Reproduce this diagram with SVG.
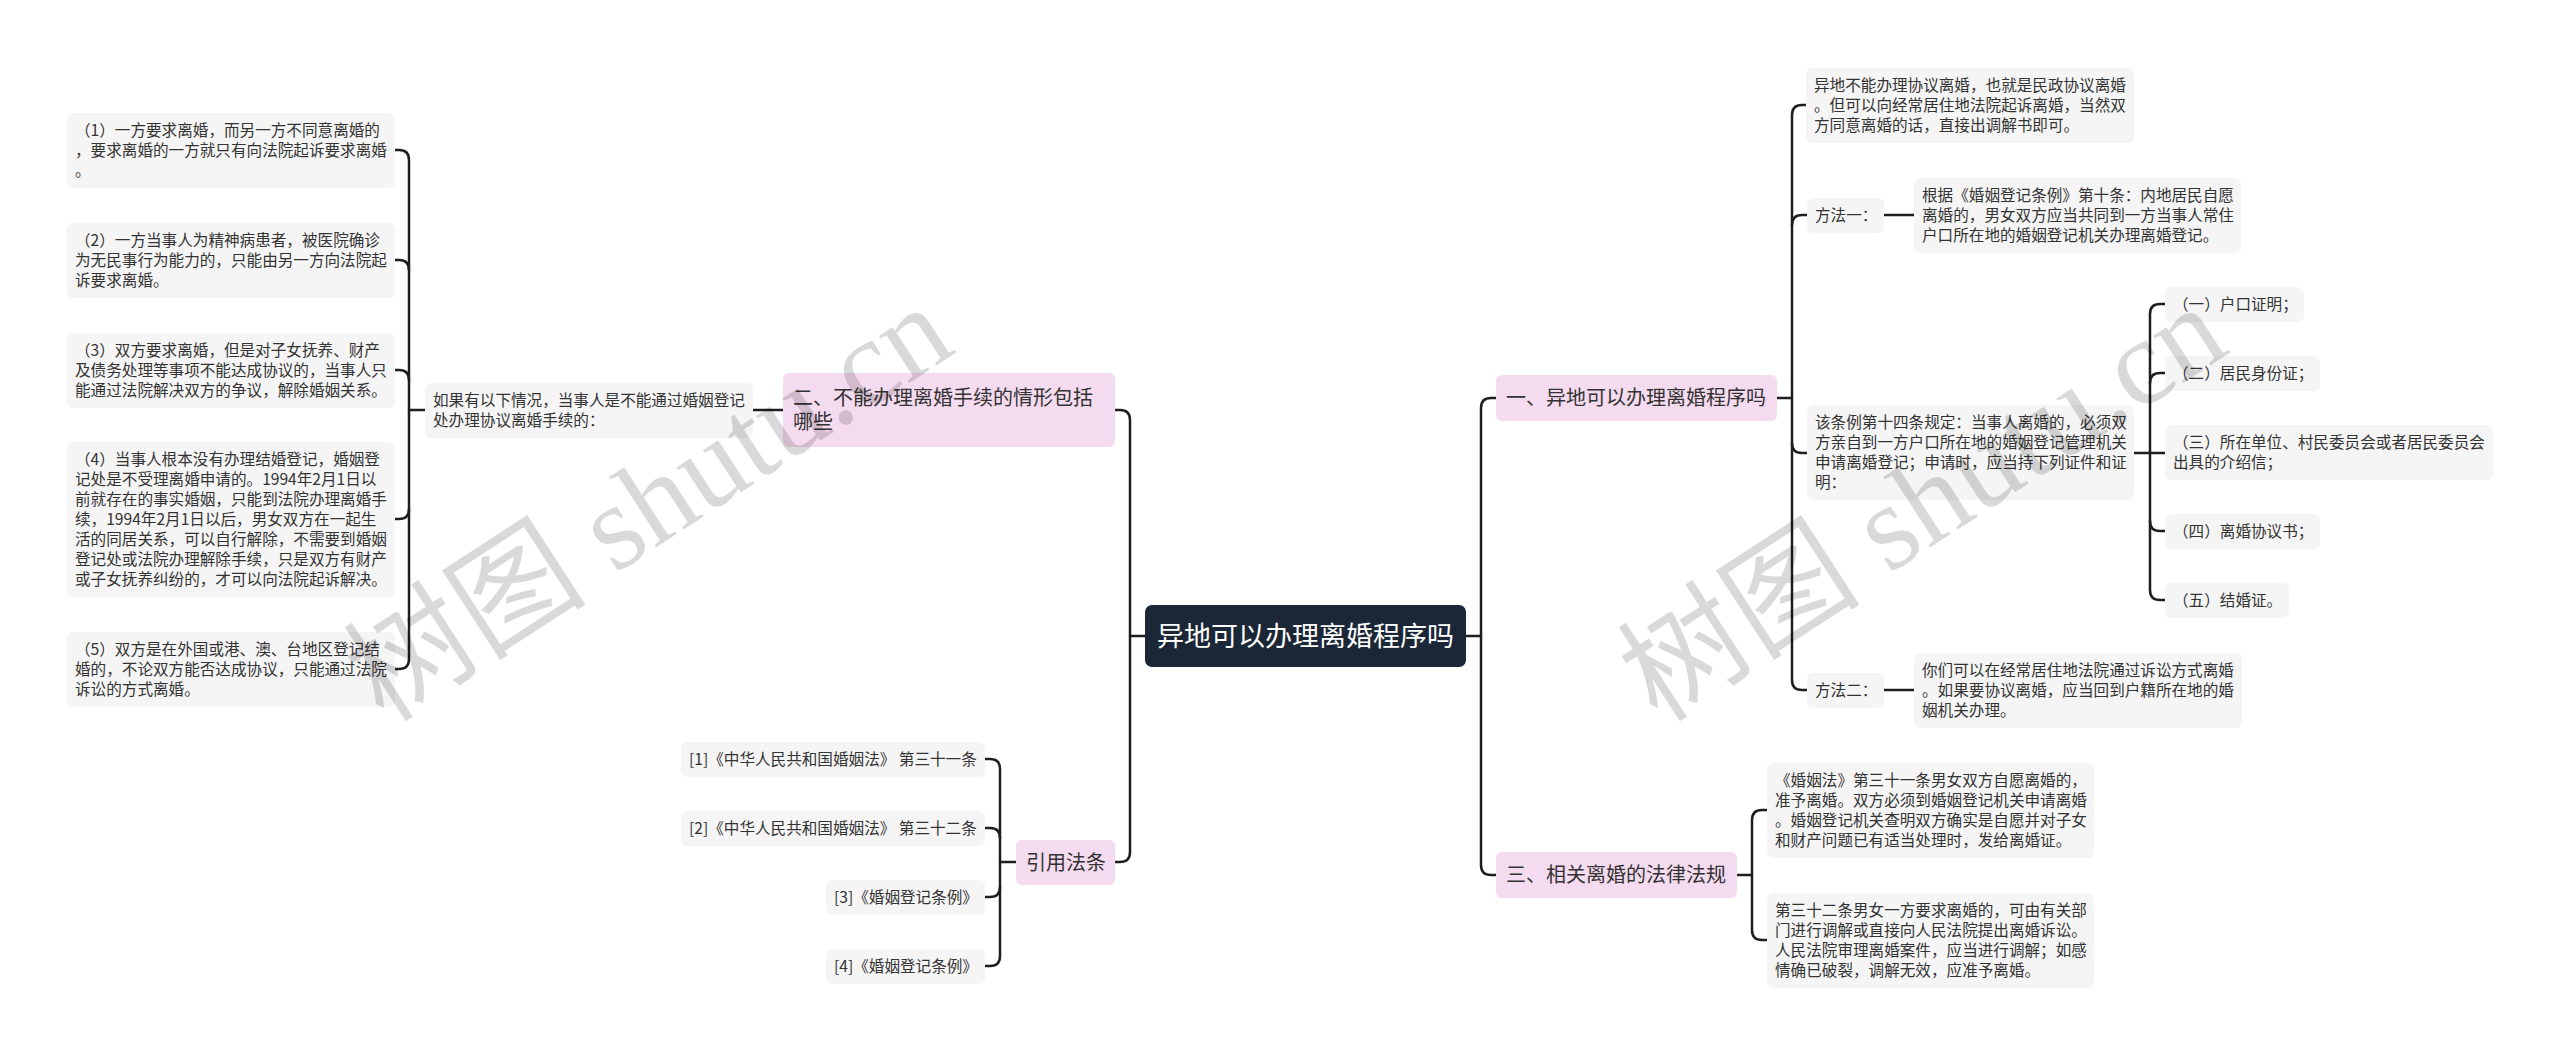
<svg xmlns="http://www.w3.org/2000/svg" width="2560" height="1055" viewBox="0 0 2560 1055">
<defs>
<style>
.bg{fill:#ffffff}
.conn path{fill:none;stroke:#1e1e1e;stroke-width:2.5;stroke-linecap:round;stroke-linejoin:round}
.leaf rect{fill:#f5f5f5}
.leaf text{font-family:"Noto Sans CJK SC","Noto Sans",sans-serif;font-size:15.6px;fill:#333333}
.branch rect{fill:#f5dbef}
.branch text{font-family:"Noto Sans CJK SC","Noto Sans",sans-serif;font-size:20px;fill:#333333}
.root rect{fill:#1b2636}
.root text{font-family:"Noto Sans CJK SC","Noto Sans",sans-serif;font-size:27px;fill:#ffffff;text-anchor:middle}
.wm{font-family:"Liberation Serif","Noto Sans CJK SC",serif;font-size:122px;fill:#000000;fill-opacity:0.15}
</style>
</defs>
<rect class="bg" x="0" y="0" width="2560" height="1055"/>

<g id="connectors" class="conn">
  <path d="M1466,636 H1481"/>
  <path d="M1496,398 H1491 Q1481,398 1481,408 V865 Q1481,875 1491,875 H1496"/>
  <path d="M1145,636 H1130"/>
  <path d="M1115,410 H1120 Q1130,410 1130,420 V852 Q1130,862 1120,862 H1115"/>
  <path d="M1777,398 H1792"/>
  <path d="M1806,105 H1802 Q1792,105 1792,115 V680 Q1792,690 1802,690 H1807"/>
  <path d="M1792,225 Q1792,215 1802,215 H1807"/>
  <path d="M1792,443 Q1792,453 1802,453 H1807"/>
  <path d="M1884,215 H1914"/>
  <path d="M1884,690 H1914"/>
  <path d="M2134,453 H2150"/>
  <path d="M2165,304 H2160 Q2150,304 2150,314 V590 Q2150,600 2160,600 H2165"/>
  <path d="M2150,383 Q2150,373 2160,373 H2165"/>
  <path d="M2150,453 H2165"/>
  <path d="M2150,521 Q2150,531 2160,531 H2165"/>
  <path d="M1737,875 H1752"/>
  <path d="M1767,810 H1762 Q1752,810 1752,820 V930 Q1752,940 1762,940 H1767"/>
  <path d="M783,410 H753"/>
  <path d="M425,410 H409"/>
  <path d="M395,150 H399 Q409,150 409,160 V659 Q409,669 399,669 H395"/>
  <path d="M409,270 Q409,260 399,260 H395"/>
  <path d="M409,380 Q409,370 399,370 H395"/>
  <path d="M409,509 Q409,519 399,519 H395"/>
  <path d="M1016,862 H1000"/>
  <path d="M985,759 H990 Q1000,759 1000,769 V956 Q1000,966 990,966 H985"/>
  <path d="M1000,838 Q1000,828 990,828 H985"/>
  <path d="M1000,887 Q1000,897 990,897 H985"/>
</g>

<g id="root" class="root">
  <rect x="1145" y="605" width="321" height="62" rx="7"/>
  <text x="1305.5" y="646">异地可以办理离婚程序吗</text>
</g>

<g id="branch1" class="branch">
  <rect x="1496" y="375" width="281" height="46" rx="6"/>
  <text x="1506" y="405">一、异地可以办理离婚程序吗</text>
</g>
<g id="branch3" class="branch">
  <rect x="1496" y="852" width="241" height="46" rx="6"/>
  <text x="1506" y="882">三、相关离婚的法律法规</text>
</g>
<g id="branch2" class="branch">
  <rect x="783" y="373" width="332" height="74" rx="6"/>
  <text x="793" y="405">二、不能办理离婚手续的情形包括</text>
  <text x="793" y="429">哪些</text>
</g>
<g id="branch4" class="branch">
  <rect x="1016" y="840" width="99" height="45" rx="6"/>
  <text x="1026" y="870">引用法条</text>
</g>

<g id="leafA" class="leaf">
  <rect x="1806" y="68" width="328" height="75" rx="6"/>
  <text x="1814" y="91">异地不能办理协议离婚，也就是民政协议离婚</text>
  <text x="1814" y="111">。但可以向经常居住地法院起诉离婚，当然双</text>
  <text x="1814" y="131">方同意离婚的话，直接出调解书即可。</text>
</g>
<g id="method1" class="leaf">
  <rect x="1807" y="198" width="77" height="35" rx="6"/>
  <text x="1815" y="221">方法一：</text>
</g>
<g id="leafB" class="leaf">
  <rect x="1914" y="178" width="327" height="75" rx="6"/>
  <text x="1922" y="201">根据《婚姻登记条例》第十条：内地居民自愿</text>
  <text x="1922" y="221">离婚的，男女双方应当共同到一方当事人常住</text>
  <text x="1922" y="241">户口所在地的婚姻登记机关办理离婚登记。</text>
</g>
<g id="leafC" class="leaf">
  <rect x="1807" y="405" width="327" height="95" rx="6"/>
  <text x="1815" y="428">该条例第十四条规定：当事人离婚的，必须双</text>
  <text x="1815" y="448">方亲自到一方户口所在地的婚姻登记管理机关</text>
  <text x="1815" y="468">申请离婚登记；申请时，应当持下列证件和证</text>
  <text x="1815" y="488">明：</text>
</g>
<g id="doc1" class="leaf">
  <rect x="2165" y="287" width="139" height="35" rx="6"/>
  <text x="2173" y="310">（一）户口证明；</text>
</g>
<g id="doc2" class="leaf">
  <rect x="2165" y="356" width="155" height="35" rx="6"/>
  <text x="2173" y="379">（二）居民身份证；</text>
</g>
<g id="doc3" class="leaf">
  <rect x="2165" y="425" width="328" height="55" rx="6"/>
  <text x="2173" y="448">（三）所在单位、村民委员会或者居民委员会</text>
  <text x="2173" y="468">出具的介绍信；</text>
</g>
<g id="doc4" class="leaf">
  <rect x="2165" y="514" width="155" height="35" rx="6"/>
  <text x="2173" y="537">（四）离婚协议书；</text>
</g>
<g id="doc5" class="leaf">
  <rect x="2165" y="583" width="124" height="35" rx="6"/>
  <text x="2173" y="606">（五）结婚证。</text>
</g>
<g id="method2" class="leaf">
  <rect x="1807" y="673" width="77" height="35" rx="6"/>
  <text x="1815" y="696">方法二：</text>
</g>
<g id="leafD" class="leaf">
  <rect x="1914" y="653" width="328" height="75" rx="6"/>
  <text x="1922" y="676">你们可以在经常居住地法院通过诉讼方式离婚</text>
  <text x="1922" y="696">。如果要协议离婚，应当回到户籍所在地的婚</text>
  <text x="1922" y="716">姻机关办理。</text>
</g>
<g id="leafE" class="leaf">
  <rect x="1767" y="763" width="327" height="95" rx="6"/>
  <text x="1775" y="786">《婚姻法》第三十一条男女双方自愿离婚的，</text>
  <text x="1775" y="806">准予离婚。双方必须到婚姻登记机关申请离婚</text>
  <text x="1775" y="826">。婚姻登记机关查明双方确实是自愿并对子女</text>
  <text x="1775" y="846">和财产问题已有适当处理时，发给离婚证。</text>
</g>
<g id="leafF" class="leaf">
  <rect x="1767" y="893" width="327" height="95" rx="6"/>
  <text x="1775" y="916">第三十二条男女一方要求离婚的，可由有关部</text>
  <text x="1775" y="936">门进行调解或直接向人民法院提出离婚诉讼。</text>
  <text x="1775" y="956">人民法院审理离婚案件，应当进行调解；如感</text>
  <text x="1775" y="976">情确已破裂，调解无效，应准予离婚。</text>
</g>

<g id="ifnode" class="leaf">
  <rect x="425" y="383" width="328" height="55" rx="6"/>
  <text x="433" y="406">如果有以下情况，当事人是不能通过婚姻登记</text>
  <text x="433" y="426">处办理协议离婚手续的：</text>
</g>
<g id="case1" class="leaf">
  <rect x="67" y="113" width="328" height="75" rx="6"/>
  <text x="75" y="136">（1）一方要求离婚，而另一方不同意离婚的</text>
  <text x="75" y="156">，要求离婚的一方就只有向法院起诉要求离婚</text>
  <text x="75" y="176">。</text>
</g>
<g id="case2" class="leaf">
  <rect x="67" y="223" width="328" height="75" rx="6"/>
  <text x="75" y="246">（2）一方当事人为精神病患者，被医院确诊</text>
  <text x="75" y="266">为无民事行为能力的，只能由另一方向法院起</text>
  <text x="75" y="286">诉要求离婚。</text>
</g>
<g id="case3" class="leaf">
  <rect x="67" y="333" width="328" height="75" rx="6"/>
  <text x="75" y="356">（3）双方要求离婚，但是对子女抚养、财产</text>
  <text x="75" y="376">及债务处理等事项不能达成协议的，当事人只</text>
  <text x="75" y="396">能通过法院解决双方的争议，解除婚姻关系。</text>
</g>
<g id="case4" class="leaf">
  <rect x="67" y="442" width="328" height="155" rx="6"/>
  <text x="75" y="465">（4）当事人根本没有办理结婚登记，婚姻登</text>
  <text x="75" y="485">记处是不受理离婚申请的。1994年2月1日以</text>
  <text x="75" y="505">前就存在的事实婚姻，只能到法院办理离婚手</text>
  <text x="75" y="525">续，1994年2月1日以后，男女双方在一起生</text>
  <text x="75" y="545">活的同居关系，可以自行解除，不需要到婚姻</text>
  <text x="75" y="565">登记处或法院办理解除手续，只是双方有财产</text>
  <text x="75" y="585">或子女抚养纠纷的，才可以向法院起诉解决。</text>
</g>
<g id="case5" class="leaf">
  <rect x="67" y="632" width="328" height="75" rx="6"/>
  <text x="75" y="655">（5）双方是在外国或港、澳、台地区登记结</text>
  <text x="75" y="675">婚的，不论双方能否达成协议，只能通过法院</text>
  <text x="75" y="695">诉讼的方式离婚。</text>
</g>

<g id="cite1" class="leaf">
  <rect x="681" y="742" width="304" height="35" rx="6"/>
  <text x="689" y="765">[1]《中华人民共和国婚姻法》 第三十一条</text>
</g>
<g id="cite2" class="leaf">
  <rect x="681" y="811" width="304" height="35" rx="6"/>
  <text x="689" y="834">[2]《中华人民共和国婚姻法》 第三十二条</text>
</g>
<g id="cite3" class="leaf">
  <rect x="826" y="880" width="159" height="35" rx="6"/>
  <text x="834" y="903">[3]《婚姻登记条例》</text>
</g>
<g id="cite4" class="leaf">
  <rect x="826" y="949" width="159" height="35" rx="6"/>
  <text x="834" y="972">[4]《婚姻登记条例》</text>
</g>

<text class="wm" transform="translate(384,724) rotate(-33)">树图 shutu.cn</text>
<text class="wm" transform="translate(1658,724) rotate(-33)">树图 shutu.cn</text>
</svg>
